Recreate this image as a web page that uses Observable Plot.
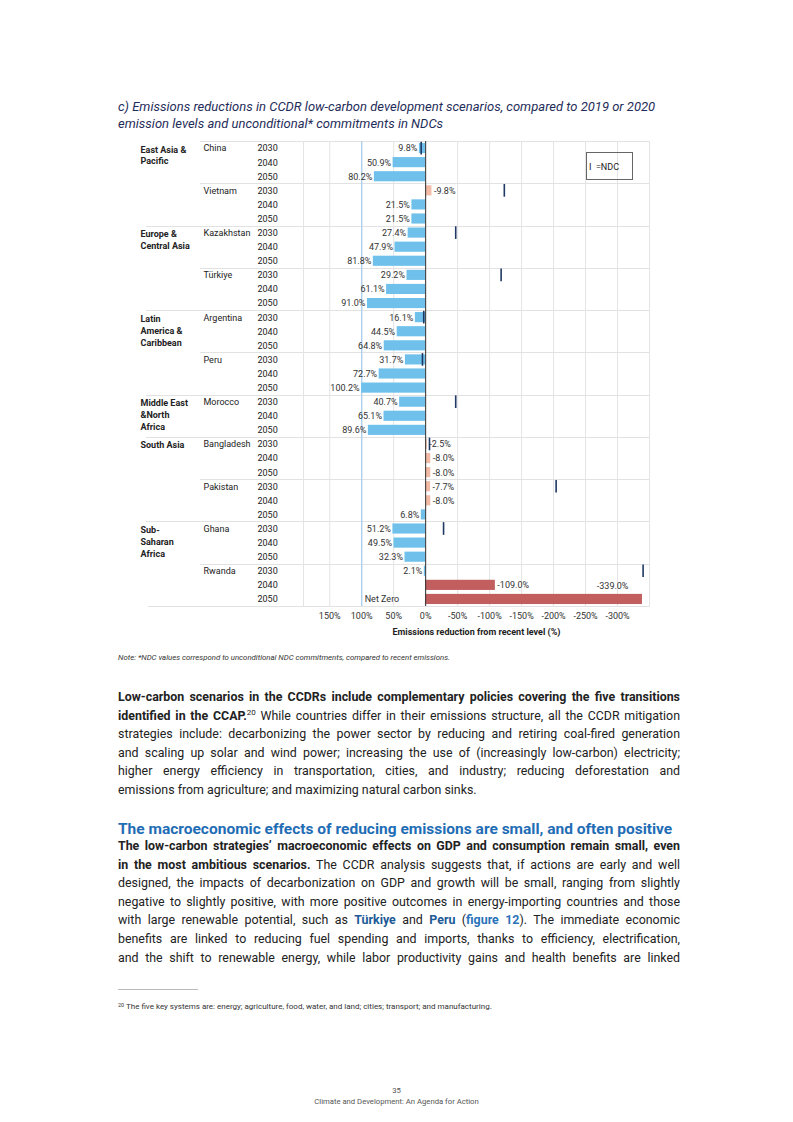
<!DOCTYPE html>
<html><head><meta charset="utf-8">
<script src="https://cdn.jsdelivr.net/npm/d3@7"></script>
<script src="https://cdn.jsdelivr.net/npm/@observablehq/plot@0.6"></script>
<style>
html,body{margin:0;padding:0;background:#fff;}
#page{position:relative;width:793px;height:1122px;overflow:hidden;font-family:Roboto,"Liberation Sans",sans-serif;color:#222;}
.abs{position:absolute;}
.title{left:118px;top:98px;font-size:13px;font-style:italic;color:#1f2d5a;line-height:17px;white-space:nowrap;}
.note{left:118px;top:653px;font-size:7.8px;font-style:italic;color:#333;line-height:10px;white-space:nowrap;}
.legend{left:586px;top:152px;width:43px;height:26px;border:1px solid #666;font-size:9px;line-height:28px;color:#222;padding-left:2px;box-sizing:content-box;}
.line{left:118px;height:18px;line-height:18px;font-size:12.4px;white-space:nowrap;color:#222;}
.line b{font-weight:700;}
.blue{color:#1d5a96;font-weight:700;}
.fig{color:#2a73b8;font-weight:700;}
.heading{left:118px;font-size:15.5px;font-weight:700;color:#1f6db5;white-space:nowrap;height:20px;line-height:20px;}
sup{font-size:8px;line-height:0;vertical-align:5px;}
.footnote{left:118px;top:1002px;font-size:8px;color:#333;white-space:nowrap;line-height:10px;}
.footnote sup{font-size:5.5px;vertical-align:2px;}
.rule{left:118px;top:989px;width:80px;height:0;border-top:1px solid #bbb;}
.footer{left:0;width:793px;text-align:center;font-size:7.7px;color:#555;line-height:10px;}
</style></head>
<body><div id="page">
<div class="abs title">c) Emissions reductions in CCDR low-carbon development scenarios, compared to 2019 or 2020<br>emission levels and unconditional* commitments in NDCs</div>
<div class="abs" id="chart" style="left:130px;top:130px;"></div>
<div class="abs legend">I&nbsp;&nbsp;=NDC</div>
<div class="abs note">Note: *NDC values correspond to unconditional NDC commitments, compared to recent emissions.</div>
<div class="abs rule"></div>
<div class="abs footnote"><sup>20</sup> The five key systems are: energy; agriculture, food, water, and land; cities; transport; and manufacturing.</div>
<div class="abs footer" style="top:1086px;">35</div>
<div class="abs footer" style="top:1097px;">Climate and Development: An Agenda for Action</div>
</div>
<script>
// ---------- data ----------
const countries = ["China","Vietnam","Kazakhstan","Türkiye","Argentina","Peru","Morocco","Bangladesh","Pakistan","Ghana","Rwanda"];
const regionOfCountry = [0,0,1,1,2,2,3,4,4,5,5];
const regionLabels = ["East Asia &\nPacific","Europe &\nCentral Asia","Latin\nAmerica &\nCaribbean","Middle East\n&North\nAfrica","South Asia","Sub-\nSaharan\nAfrica"];
const years = ["2030","2040","2050"];
const reduction2030 = [9.8,-9.8,27.4,29.2,16.1,31.7,40.7,-2.5,-7.7,51.2,2.1];
const reduction2040 = [50.9,21.5,47.9,61.1,44.5,72.7,65.1,-8.0,-8.0,49.5,-109.0];
const reduction2050 = [80.2,21.5,81.8,91.0,64.8,100.2,89.6,-8.0,6.8,32.3,-339.0];
const ndc2030 = [7,-123,-47,-118,3,5,-47,-6,-204,-28,-340];
const highlightRows = ["Rwanda 2040","Rwanda 2050"];
const netZeroLevel = [100];
const netZeroLabel = "Net Zero";
const xTicks = [150,100,50,0,-50,-100,-150,-200,-250,-300];
const axisTitle = "Emissions reduction from recent level (%)";

// ---------- build table ----------
const series = [reduction2030, reduction2040, reduction2050];
const rows = [];
countries.forEach((c, ci) => years.forEach((yr, yi) => rows.push({
  i: ci*3 + yi, country: c, year: yr, value: series[yi][ci], region: regionOfCountry[ci]
})));
const isHighlight = d => highlightRows.includes(d.country + " " + d.year);
const lastRow = rows[rows.length-1];
const normalLabels = rows.filter(d => d !== lastRow);
const countryRows = countries.map((c, ci) => ({i: ci*3, country: c}));
const regionRows = regionLabels.map((r, ri) => ({i: regionOfCountry.indexOf(ri)*3, label: r}));
const ndcRows = countries.map((c, ci) => ({i: ci*3, ndc: ndc2030[ci]}));
const boundaries = [];
countries.forEach((c, ci) => {
  if (ci === 0) return;
  boundaries.push({pos: ci*3 - 0.5, region: regionOfCountry[ci] !== regionOfCountry[ci-1]});
});
const nRows = rows.length;

function separators(index, scales, values, dimensions) {
  const g = d3.create("svg:g");
  const left = dimensions.marginLeft, right = dimensions.width - dimensions.marginRight;
  const y = scales.y;
  const all = [{pos: -0.5, off: -103}, ...boundaries.map(b => ({pos: b.pos, off: b.region ? -157 : -103})), {pos: nRows - 0.5, off: -155}];
  for (const b of all) {
    const yy = Math.round(y(b.pos)) + 0.5;
    g.append("line").attr("x1", left + b.off).attr("x2", right).attr("y1", yy).attr("y2", yy)
      .attr("stroke", "#e2e2e2").attr("stroke-width", 1);
  }
  return g.node();
}

const chart = Plot.plot({
  width: 531,
  height: 512,
  marginLeft: 173,
  marginRight: 12,
  marginTop: 11,
  marginBottom: 36,
  style: {fontFamily: "Roboto, sans-serif", fontSize: "9px", color: "#333", background: "transparent"},
  x: {domain: [191, -350], ticks: xTicks, tickFormat: d => d + "%", tickSize: 0, tickPadding: 6, label: null},
  y: {domain: [-0.5, nRows - 0.5], reverse: true, axis: null},
  marks: [
    Plot.gridX(xTicks, {stroke: "#e4e4e4", strokeOpacity: 1}),
    Plot.frame({stroke: "#e4e4e4"}),
    separators,
    Plot.ruleX(netZeroLevel, {stroke: "#a9cfee", strokeWidth: 1.3}),
    Plot.rect(rows.filter(d => !isHighlight(d) && d.value >= 0), {x1: d => 0, x2: "value", y1: d => d.i - 0.36, y2: d => d.i + 0.36, fill: "#6fc1ec"}),
    Plot.rect(rows.filter(d => !isHighlight(d) && d.value < 0), {x1: d => 0, x2: "value", y1: d => d.i - 0.36, y2: d => d.i + 0.36, fill: "#f3bba6"}),
    Plot.rect(rows.filter(isHighlight), {x1: d => 0, x2: "value", y1: d => d.i - 0.36, y2: d => d.i + 0.36, fill: "#c25e5e"}),
    Plot.ruleX([0], {stroke: "#333", strokeWidth: 1}),
    Plot.ruleX(ndcRows, {x: "ndc", y1: d => d.i - 0.45, y2: d => d.i + 0.45, stroke: "#1f3864", strokeWidth: 1.6}),
    Plot.text(normalLabels.filter(d => d.value >= 0), {x: "value", y: "i", text: d => d.value.toFixed(1) + "%", textAnchor: "end", dx: -2, fill: "#333"}),
    Plot.text(normalLabels.filter(d => d.value < 0), {x: "value", y: "i", text: d => d.value.toFixed(1) + "%", textAnchor: "start", dx: 2, fill: "#333"}),
    Plot.text([lastRow], {x: "value", y: "i", text: d => d.value.toFixed(1) + "%", textAnchor: "end", dx: -14, dy: -13, fill: "#333"}),
    Plot.text([lastRow], {x: () => netZeroLevel[0], y: "i", text: () => netZeroLabel, textAnchor: "start", dx: 3, fill: "#333"}),
    Plot.text(rows, {y: "i", text: "year", frameAnchor: "left", dx: -46, textAnchor: "start", fill: "#222"}),
    Plot.text(countryRows, {y: "i", text: "country", frameAnchor: "left", dx: -100, textAnchor: "start", fill: "#222"}),
    Plot.text(regionRows, {y: "i", text: "label", frameAnchor: "left", dx: -163, textAnchor: "start", lineAnchor: "top", dy: -4.5, lineHeight: 1.33, fontWeight: "bold", fill: "#222"}),
    Plot.text([axisTitle], {frameAnchor: "bottom", dy: 28, fontWeight: "bold", fill: "#222"})
  ]
});
document.getElementById("chart").appendChild(chart);

// ---------- body text ----------
const page = document.getElementById("page");
const TARGET = 562;
function addLine(html, cy, justify, cls) {
  const d = document.createElement("div");
  d.className = "abs " + (cls || "line");
  d.style.top = (cy - 9) + "px";
  const s = document.createElement("span");
  s.innerHTML = html;
  d.appendChild(s);
  page.appendChild(d);
  if (justify) {
    const w = s.getBoundingClientRect().width;
    const n = (s.textContent.match(/ /g) || []).length;
    if (n) s.style.wordSpacing = ((TARGET - w) / n) + "px";
  }
}
const para1 = [
  "<b>Low-carbon scenarios in the CCDRs include complementary policies covering the five transitions</b>",
  "<b>identified in the CCAP.</b><sup>20</sup> While countries differ in their emissions structure, all the CCDR mitigation",
  "strategies include: decarbonizing the power sector by reducing and retiring coal-fired generation",
  "and scaling up solar and wind power; increasing the use of (increasingly low-carbon) electricity;",
  "higher energy efficiency in transportation, cities, and industry; reducing deforestation and",
  "emissions from agriculture; and maximizing natural carbon sinks."
];
const p1y = [697, 715.6, 734.2, 752.8, 771.4, 790];
para1.forEach((h, k) => addLine(h, p1y[k], k < para1.length - 1));
addLine("The macroeconomic effects of reducing emissions are small, and often positive", 828, false, "heading");
const para2 = [
  "<b>The low-carbon strategies’ macroeconomic effects on GDP and consumption remain small, even</b>",
  "<b>in the most ambitious scenarios.</b> The CCDR analysis suggests that, if actions are early and well",
  "designed, the impacts of decarbonization on GDP and growth will be small, ranging from slightly",
  "negative to slightly positive, with more positive outcomes in energy-importing countries and those",
  "with large renewable potential, such as <span class=\"blue\">Türkiye</span> and <span class=\"blue\">Peru</span> (<span class=\"fig\">figure 12</span>). The immediate economic",
  "benefits are linked to reducing fuel spending and imports, thanks to efficiency, electrification,",
  "and the shift to renewable energy, while labor productivity gains and health benefits are linked"
];
const p2y = [846, 864.6, 883.2, 901.8, 920.4, 939, 957.6];
para2.forEach((h, k) => addLine(h, p2y[k], true));
</script>
</body></html>
